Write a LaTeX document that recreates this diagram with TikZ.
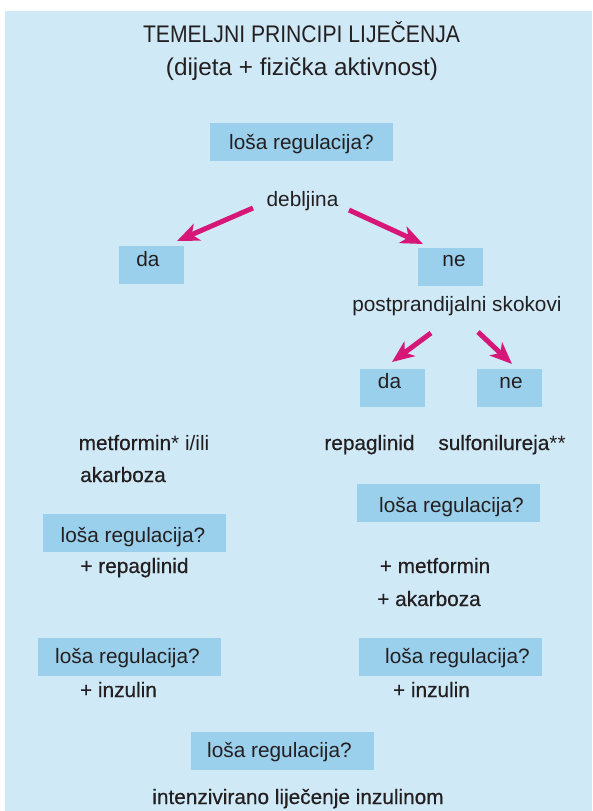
\documentclass[tikz,border=0pt]{standalone}
\usepackage{graphicx}
\usepackage{fontspec}
\setmainfont{Liberation Sans}
\newfontfamily\medfont[FakeBold=0.45]{Liberation Sans}
\usetikzlibrary{arrows.meta}
\definecolor{bgblue}{RGB}{207,233,247}
\definecolor{boxblue}{RGB}{155,208,236}
\definecolor{arrmag}{RGB}{214,23,120}
\definecolor{txtc}{RGB}{35,31,32}
\begin{document}
\begin{tikzpicture}[x=1pt,y=-1pt,
  qbox/.style={fill=boxblue, draw=none, minimum width=183pt, minimum height=38pt, inner sep=0pt},
  ybox/.style={fill=boxblue, draw=none, minimum width=65pt, minimum height=38pt, inner sep=0pt},
  reg/.style={font=\fontsize{20.8}{24}\selectfont, text=txtc, inner sep=0pt, anchor=base},
  med/.style={font=\medfont\fontsize{20.8}{24}\selectfont, text=txtc, inner sep=0pt, anchor=base},
  arr/.style={draw=arrmag, line width=5pt, -{Stealth[length=22pt,width=18pt,inset=6pt]}}]
\useasboundingbox (0,0) rectangle (592,811);
\fill[bgblue] (5,11) rectangle (592,811);

% title
\node[reg, font=\fontsize{24}{28}\selectfont] (title) at (301.5,42) {\scalebox{0.88}[1]{TEMELJNI PRINCIPI LIJEČENJA}};
\node[reg, font=\fontsize{24.3}{28}\selectfont] (sub) at (302,75) {(dijeta + fizička aktivnost)};

% boxes
\node[qbox] (q1) at (301.5,142) {};
\node[reg] (q1t) at (301.5,149) {loša regulacija?};
\node[reg] (deb) at (302.5,206) {debljina};

\node[ybox] (da1) at (151.5,265) {};
\node[reg] (da1t) at (148,266) {da};
\node[ybox] (ne1) at (450.5,267) {};
\node[reg] (ne1t) at (454,266) {ne};

\node[reg] (post) at (457,311) {postprandijalni skokovi};

\node[ybox] (da2) at (392.5,388) {};
\node[reg] (da2t) at (389.5,388) {da};
\node[ybox] (ne2) at (509.5,388) {};
\node[reg] (ne2t) at (511,388) {ne};

% left column
\node[med] (met) at (144,450) {metformin{\fontspec{Liberation Sans}*} {\fontspec{Liberation Sans}i/ili}};
\node[med] (aka) at (123,482) {akarboza};
\node[qbox] (qL1) at (134.5,533) {};
\node[reg] (qL1t) at (133,542) {loša regulacija?};
\node[med] (prep) at (134.5,573) {+ repaglinid};
\node[qbox] (qL2) at (129.5,657) {};
\node[reg] (qL2t) at (127.5,663) {loša regulacija?};
\node[med] (pinL) at (118.5,697) {+ inzulin};

% right column
\node[med] (rep) at (369.5,450) {repaglinid};
\node[med] (sul) at (502,450) {sulfonilureja{\fontspec{Liberation Sans}**}};
\node[qbox] (qR1) at (448.5,503) {};
\node[reg] (qR1t) at (451.5,512) {loša regulacija?};
\node[med] (pmet) at (435,573) {+ metformin};
\node[med] (paka) at (429,606) {+ akarboza};
\node[qbox] (qR2) at (450,657) {};
\node[reg] (qR2t) at (457.5,663) {loša regulacija?};
\node[med] (pinR) at (431.5,697) {+ inzulin};

% bottom
\node[qbox] (qB) at (282.5,751) {};
\node[reg] (qBt) at (279.5,757) {loša regulacija?};
\node[med] (int) at (298,804) {intenzivirano liječenje inzulinom};

% arrows
\coordinate (a1s) at (253,208);
\coordinate (a1e) at (177,241);
\coordinate (a2s) at (349,210);
\coordinate (a2e) at (423,244);
\coordinate (a3s) at (431,333);
\coordinate (a3e) at (392,362);
\coordinate (a4s) at (478,332);
\coordinate (a4e) at (512,364);
\draw[arr] (a1s) -- (a1e);
\draw[arr] (a2s) -- (a2e);
\draw[arr] (a3s) -- (a3e);
\draw[arr] (a4s) -- (a4e);
\end{tikzpicture}
\end{document}
